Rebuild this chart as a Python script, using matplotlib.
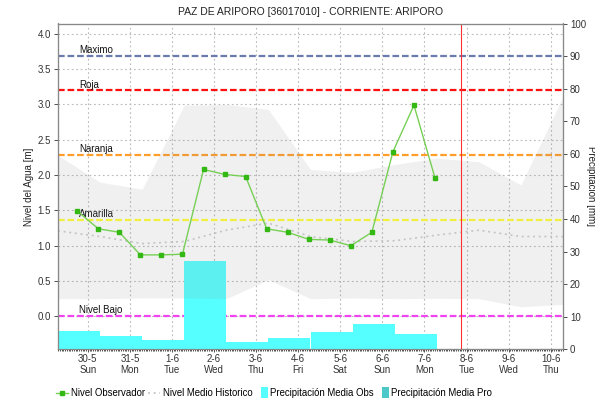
import matplotlib
matplotlib.use('Agg')
import matplotlib.pyplot as plt
from matplotlib.lines import Line2D
from matplotlib.patches import Patch, Rectangle
from matplotlib.legend_handler import HandlerPatch
from matplotlib.ticker import MultipleLocator

plt.rcParams['font.family'] = ['Liberation Sans', 'DejaVu Sans']

# time axis in days from 30-5 00:00
day_labels = ['30-5\nSun', '31-5\nMon', '1-6\nTue', '2-6\nWed', '3-6\nThu', '4-6\nFri',
              '5-6\nSat', '6-6\nSun', '7-6\nMon', '8-6\nTue', '9-6\nWed', '10-6\nThu']
day_ticks = list(range(len(day_labels)))

# observed level, readings at 06:00 and 18:00
obs_t = [-0.25, 0.25, 0.75, 1.25, 1.75, 2.25, 2.75, 3.25, 3.75, 4.25, 4.75,
         5.25, 5.75, 6.25, 6.75, 7.25, 7.75, 8.25]
obs_level = [1.49, 1.24, 1.19, 0.87, 0.87, 0.88, 2.08, 2.01, 1.98, 1.24, 1.19,
             1.09, 1.08, 1.00, 1.19, 2.33, 2.99, 1.96]

# historical envelope and mean, at 07:00 of each day
hist_t = [-17/24 + k for k in range(13)]
hist_max = [2.28, 1.90, 1.80, 2.99, 3.00, 2.93, 2.08, 2.04, 2.15, 2.24, 2.19, 1.86, 3.11]
hist_min = [0.25, 0.25, 0.26, 0.26, 0.25, 0.52, 0.25, 0.26, 0.25, 0.255, 0.25, 0.135, 0.17]
hist_mean = [1.21, 1.13, 1.03, 1.06, 1.22, 1.32, 1.13, 1.06, 1.07, 1.15, 1.22, 1.13, 1.13]

# daily rainfall (07:00 to 07:00)
rain_start = [-17/24 + k for k in range(9)]
rain_mm = [5.5, 4.2, 2.9, 27.1, 2.3, 3.6, 5.4, 7.9, 4.6]

# alert levels
alert_names = ['Maximo', 'Roja', 'Naranja', 'Amarilla', 'Nivel Bajo']
alert_levels = [3.69, 3.20, 2.29, 1.37, 0.0]
alert_colors = ['#6B7BAE', '#FF1010', '#FF9F2A', '#FFFF33', '#F044F0']

now_t = 8.86

fig = plt.figure(figsize=(5.95, 4.04), dpi=100)
rect = [58/595, 1 - 349.3/404, 505/595, 325.8/404]
ax = fig.add_axes(rect)
ax2 = ax.twinx()
ax3 = ax.twinx()

xlim = (-17/24, 11 + 7/24)
ylim = (-0.467, 4.147)

# base axis: grid and alert levels
ax.set_xlim(*xlim)
ax.set_ylim(*ylim)
ax.yaxis.set_major_locator(MultipleLocator(0.5))
ax.yaxis.set_major_formatter(matplotlib.ticker.FormatStrFormatter('%.1f'))
ax.set_xticks(day_ticks)
ax.set_xticklabels(day_labels, linespacing=1.15)
ax.xaxis.set_minor_locator(MultipleLocator(1/24))
ax.grid(True, which='major', linestyle=(0, (1.5, 2.5)), color='#b8b8b8', linewidth=0.8)
ax.tick_params(axis='both', which='major', labelsize=7, length=3, width=0.6, colors='#333333',
               pad=2)
ax.tick_params(axis='x', which='minor', length=1.6, width=0.6, color='#333333')
ax.tick_params(axis='x', which='major', length=2, pad=1.5)
for lv, c, name in zip(alert_levels, alert_colors, alert_names):
    ax.axhline(lv, color=c, linewidth=1.6, dashes=(3, 1.3), zorder=2)
    ax.annotate(name, (-0.21, lv), xytext=(0, 0.6), textcoords='offset points',
                fontsize=7, va='bottom', ha='left', color='#111111', zorder=3)
ax.set_ylabel('Nivel del Agua [m]', fontsize=7, color='#222222')
ax.yaxis.set_label_coords(-0.048, 0.5)

# rainfall bars on the right axis
ax2.set_ylim(0, 100)
ax2.bar(rain_start, rain_mm, width=1.0, align='edge', color='#55FFFF', edgecolor='none',
        zorder=2)
ax2.yaxis.set_major_locator(MultipleLocator(10))
ax2.tick_params(axis='y', labelsize=7, length=3, width=0.6, colors='#333333', pad=2)
ax2.set_ylabel('Precipitación [mm]', fontsize=7, rotation=270, va='center', color='#222222')
ax2.yaxis.set_label_coords(1.055, 0.5)

# envelope, mean and observed level on top
ax3.set_ylim(*ylim)
ax3.set_yticks([])
ax3.fill_between(hist_t, hist_min, hist_max, color='#8c8c8c', alpha=0.13, linewidth=0)
ax3.plot(hist_t, hist_mean, color='#c4c4c4', linewidth=1.2, dashes=(1.2, 2.2))
ax3.plot(obs_t, obs_level, color='#77D055', linewidth=1.0, marker='s', markersize=2.3,
         markerfacecolor='#33B814', markeredgecolor='#33B814')
ax3.axvline(now_t, color='#FF3030', linewidth=0.8)
ax3.set_xlim(*xlim)

for a in (ax, ax2, ax3):
    for s in a.spines.values():
        s.set_color('#888888')
        s.set_linewidth(0.8)

fig.text(310.5/595, 1 - 12/404, 'PAZ DE ARIPORO [36017010] - CORRIENTE: ARIPORO',
         ha='center', va='center', fontsize=7.5, color='#222222')


class NarrowPatch(HandlerPatch):
    def create_artists(self, legend, orig_handle, xdescent, ydescent, width, height,
                       fontsize, trans):
        p = Rectangle((width - 5 - xdescent, -ydescent - 1.5), 5, height + 3,
                      facecolor=orig_handle.get_facecolor(), edgecolor='none',
                      transform=trans)
        return [p]


handles = [
    Line2D([], [], color='#77D055', linewidth=1.0, marker='s', markersize=2.5,
           markerfacecolor='#33B814', markeredgecolor='#33B814'),
    Line2D([], [], color='#c4c4c4', linewidth=1.2, dashes=(1.2, 2.2)),
    Patch(facecolor='#55FFFF'),
    Patch(facecolor='#4CC8C8'),
]
labels = ['Nivel Observador', 'Nivel Medio Historico', 'Precipitación Media Obs',
          'Precipitación Media Pro']
fig.legend(handles, labels, loc='center', bbox_to_anchor=(274/595, 1 - 393/404), ncol=4,
           frameon=False, fontsize=6.9, handlelength=1.3, handletextpad=0.25,
           columnspacing=0.3, borderpad=0,
           handler_map={Patch: NarrowPatch()})

fig.savefig('out.png', dpi=100)
